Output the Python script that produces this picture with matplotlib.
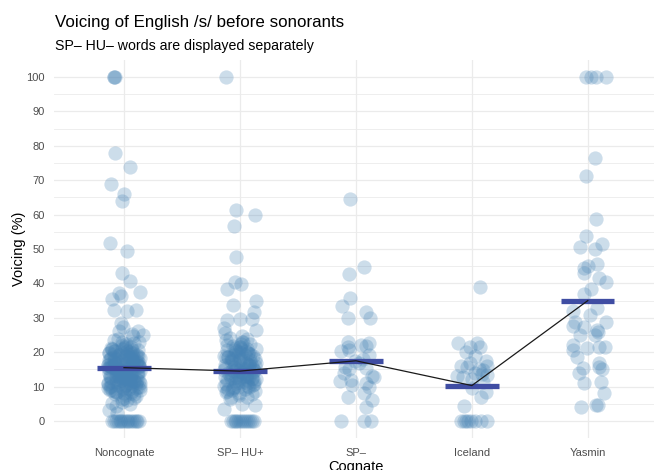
import matplotlib
matplotlib.use("Agg")
import matplotlib.pyplot as plt
import numpy as np

plt.rcParams['font.family'] = ['Liberation Sans', 'DejaVu Sans']

categories = ['Noncognate', 'SP\u2013 HU+', 'SP\u2013', 'Iceland', 'Yasmin']

# group means (bars + connecting line)
means = [15.5, 14.5, 17.5, 10.3, 35.0]

# --- Noncognate ---
nc_top = [100, 100, 100, 78.0, 73.8, 69.0, 66.0, 64.0, 51.7, 49.5, 43.0, 40.8,
          37.6, 37.3, 36.3, 35.6, 32.3, 32.0, 32.3, 28.6, 27.3, 26.2, 25.0]
nc_top_dx = [-0.09, -0.085, -0.08, -0.08, 0.05, -0.11, 0.0, -0.02, -0.12, 0.03, -0.02, 0.05,
             0.14, -0.04, -0.03, -0.10, -0.09, 0.03, 0.10, -0.03, -0.01, 0.12, 0.16]
nc_body = [21.3, 17.8, 12.4, 19.6, 9.7, 14.2, 23.5, 16.1, 11.0, 8.2,
           18.4, 13.6, 20.9, 15.3, 10.4, 6.8, 17.2, 12.9, 22.1, 14.8,
           9.1, 19.0, 16.7, 11.7, 24.6, 13.1, 7.5, 18.9, 15.9, 10.9,
           20.2, 14.5, 12.1, 17.5, 8.9, 16.4, 21.8, 13.9, 11.3, 19.3,
           5.6, 15.0, 18.1, 12.7, 9.4, 22.7, 16.9, 14.0, 10.1, 20.5,
           17.0, 13.3, 7.9, 15.6, 19.8, 11.9, 25.4, 16.2, 12.3, 18.6,
           14.7, 9.9, 21.0, 15.2, 13.0, 6.1, 17.7, 11.5, 19.9, 14.4,
           10.6, 16.5, 23.0, 12.6, 8.6, 18.2, 15.4, 13.7, 20.6, 11.1,
           4.4, 17.3, 14.9, 9.0, 16.0, 12.0, 19.2, 15.8, 10.3, 22.4,
           13.5, 7.2, 18.0, 14.1, 11.6, 20.0, 16.6, 12.5, 3.2, 15.1,
           17.9, 10.8, 13.2, 19.5, 8.4, 14.6, 21.5, 16.3, 11.8, 5.1,
           18.7, 12.2, 15.5, 9.6, 26.3, 13.8, 17.1, 10.0, 20.3, 14.3,
           6.6, 16.8, 12.8, 19.0, 11.4, 15.7, 2.4, 18.3, 13.4, 9.3,
           16.2, 20.8, 11.9, 14.9, 8.0, 18.8, 13.0, 22.9, 10.5, 15.9,
           19.4, 12.3, 7.7, 17.4, 14.4, 21.2, 9.8, 16.0, 12.6, 18.1,
           11.2, 14.0, 20.1, 8.7, 15.3, 17.6, 13.6, 10.7, 19.1, 6.3,
           23.8, 12.9, 16.9, 9.5, 14.7, 18.5, 11.5, 21.6, 13.3, 15.6,
           4.9, 17.0, 10.2, 19.7, 12.0, 14.2, 16.4, 8.3, 20.4, 13.9]
nc_zeros = 16

# --- SP- HU+ ---
sh_top = [100, 61.3, 59.9, 56.8, 47.8, 40.5, 39.8, 38.5, 35.0, 33.7, 31.8,
          29.4, 29.6, 29.6, 27.0, 26.5]
sh_top_dx = [-0.12, -0.03, 0.13, -0.05, -0.03, -0.04, 0.01, -0.11, 0.14, -0.06, 0.12,
             -0.11, 0.0, 0.10, -0.14, 0.14]
sh_body = [24.8, 18.3, 12.6, 21.1, 9.8, 15.7, 23.4, 13.9, 7.6, 19.6,
           16.2, 11.4, 22.5, 14.6, 8.8, 20.4, 17.5, 12.0, 25.6, 15.1,
           10.2, 18.9, 13.3, 6.4, 21.8, 16.8, 11.8, 19.2, 14.2, 9.3,
           23.9, 17.1, 12.9, 20.0, 15.5, 10.7, 18.0, 13.6, 7.1, 22.0,
           16.4, 11.1, 19.9, 14.9, 9.0, 24.2, 17.8, 12.3, 20.8, 15.0,
           10.5, 18.6, 13.0, 5.0, 21.4, 16.0, 11.6, 19.4, 14.4, 8.3,
           22.9, 17.3, 12.7, 20.2, 15.3, 3.5, 18.1, 13.5, 9.6, 21.0,
           16.6, 11.2, 19.0, 14.0, 6.9, 23.0, 17.6, 12.1, 20.6, 15.8,
           10.0, 18.5, 13.2, 8.0, 22.3, 16.3, 11.9, 19.7, 14.7, 4.6,
           17.0, 12.4, 20.5, 9.4, 15.2, 18.7, 11.0, 14.1, 21.6, 7.9,
           16.7, 13.8, 19.1, 10.8, 15.9, 12.5, 17.7, 9.9, 14.5, 20.9,
           11.5, 16.1, 13.1, 18.2, 8.6, 15.4, 12.8, 19.8, 10.3, 14.8]
sh_zeros = 13

# --- SP- ---
sp_vals = [64.6, 44.8, 42.7, 35.8, 33.4, 29.9, 31.7, 29.9, 23.0, 22.8, 21.6, 22.1,
           21.8, 20.2, 20.6, 19.2, 15.8, 15.4, 15.1, 13.1, 11.6, 11.9, 11.0, 10.5,
           9.9, 8.1, 7.0, 6.1, 4.2, 0, 0, 0, 16.9, 17.5, 12.8, 18.0, 14.0]
sp_dx = [-0.05, 0.07, -0.06, -0.05, -0.12, -0.07, 0.09, 0.12, -0.07, 0.11, -0.07, 0.04,
         0.09, -0.13, -0.06, 0.11, -0.09, 0.09, -0.06, 0.14, -0.14, -0.04, 0.09, -0.03,
         0.11, 0.07, -0.07, 0.14, 0.09, -0.13, 0.07, 0.13, 0.03, -0.01, 0.16, 0.06, -0.10]

# --- Iceland ---
ic_vals = [39.0, 22.7, 21.6, 22.6, 21.5, 18.9, 17.5, 16.1, 15.8, 16.0, 13.1, 12.9,
           14.0, 13.7, 13.4, 11.4, 9.6, 8.5, 7.0, 4.4, 0, 0, 0, 0, 0, 0, 0, 0,
           20.1, 14.8, 12.2, 17.0, 15.0]
ic_dx = [0.07, -0.12, -0.02, 0.04, 0.07, 0.03, 0.12, -0.09, -0.04, 0.13, -0.13, -0.08,
         0.03, 0.09, 0.13, 0.10, 0.0, 0.12, 0.08, -0.07, -0.09, -0.07, -0.05, -0.03,
         -0.01, 0.03, 0.08, 0.13, -0.05, 0.10, 0.0, -0.02, 0.06]

# --- Yasmin ---
ya_vals = [100, 100, 100, 100, 76.5, 71.2, 58.7, 53.9, 50.6, 51.5, 50.0, 44.5, 45.1,
           45.6, 43.0, 41.6, 40.5, 38.4, 36.9, 32.1, 32.8, 30.8, 28.9, 28.9, 27.4,
           26.5, 27.6, 25.0, 25.0, 26.0, 22.1, 21.2, 21.6, 21.6, 20.6, 18.7, 16.9,
           15.8, 15.4, 14.0, 15.1, 11.0, 11.4, 8.2, 4.2, 4.7, 4.7]
ya_dx = [-0.02, 0.03, 0.07, 0.16, 0.06, -0.02, 0.07, -0.02, -0.07, 0.12, 0.06, -0.03, 0.0,
         0.08, -0.03, 0.10, 0.16, 0.03, -0.03, -0.13, 0.08, 0.02, -0.11, 0.16, -0.03,
         0.08, -0.13, -0.07, 0.06, 0.09, -0.13, -0.01, 0.10, 0.15, -0.13, -0.09, 0.10,
         0.10, -0.04, -0.08, 0.12, -0.03, 0.11, 0.14, -0.06, 0.07, 0.09]

# jitter pattern reused for the dense clusters
spread = [-0.11, 0.06, -0.02, 0.12, -0.07, 0.02, 0.09, -0.13, 0.04, -0.05,
          0.13, -0.09, 0.0, 0.08, -0.03, 0.11, -0.12, 0.05, -0.06, 0.1, -0.01, 0.07, -0.1,
          0.03, -0.08, 0.14, -0.04, 0.01, -0.14, 0.06, -0.01]


def cyc(n, start=0):
    return np.array([spread[(start + 7 * i + i // len(spread)) % len(spread)] for i in range(n)])


fig = plt.figure(figsize=(6.54, 4.70), dpi=100)
ax = fig.add_axes([0.0832, 0.0677, 0.922, 0.8051])

pt = dict(s=105, color='#4682b4', alpha=0.27, linewidths=0, zorder=3)

# Noncognate
nc_y = np.concatenate([nc_top, nc_body, np.zeros(nc_zeros)])
nc_dx = np.concatenate([nc_top_dx, cyc(len(nc_body)), np.linspace(-0.1, 0.13, nc_zeros)])
ax.scatter(0 + nc_dx, nc_y, **pt)

# SP- HU+
sh_y = np.concatenate([sh_top, sh_body, np.zeros(sh_zeros)])
sh_dx2 = np.concatenate([sh_top_dx, cyc(len(sh_body), 5), np.linspace(-0.08, 0.12, sh_zeros)])
ax.scatter(1 + sh_dx2, sh_y, **pt)

ax.scatter(2 + np.array(sp_dx), sp_vals, **pt)
ax.scatter(3 + np.array(ic_dx), ic_vals, **pt)
ax.scatter(4 + np.array(ya_dx), ya_vals, **pt)

xs = np.arange(len(categories))
ax.hlines(means, xs - 0.23, xs + 0.23, colors='#3f4da3', linewidth=3.8, zorder=4)
ax.plot(xs, means, color='#1a1a1a', linewidth=0.9, zorder=5)

ax.set_xlim(-0.6, 4.6)
ax.set_ylim(-5, 105)
ax.set_yticks(np.arange(0, 101, 10))
ax.set_yticks(np.arange(5, 100, 10), minor=True)
ax.set_xticks(xs)
ax.set_xticklabels(categories)
ax.grid(True, which='major', color='#ebebeb', linewidth=0.9)
ax.grid(True, which='minor', axis='y', color='#ebebeb', linewidth=0.6)
ax.set_axisbelow(True)
for s in ax.spines.values():
    s.set_visible(False)
ax.tick_params(which='both', length=0, labelsize=8, labelcolor='#4d4d4d', pad=7)

ax.set_ylabel('Voicing (%)', fontsize=10.5)
ax.yaxis.set_label_coords(-0.047, 0.5)
ax.set_xlabel('Cognate', fontsize=10.5)
ax.xaxis.set_label_coords(0.5, -0.057)

fig.text(55 / 654, 1 - 22 / 470, 'Voicing of English /s/ before sonorants', fontsize=12.2,
         va='center', ha='left')
fig.text(55 / 654, 1 - 46 / 470, 'SP\u2013 HU\u2013 words are displayed separately', fontsize=10.2,
         va='center', ha='left')

fig.savefig('out.png', dpi=100)
